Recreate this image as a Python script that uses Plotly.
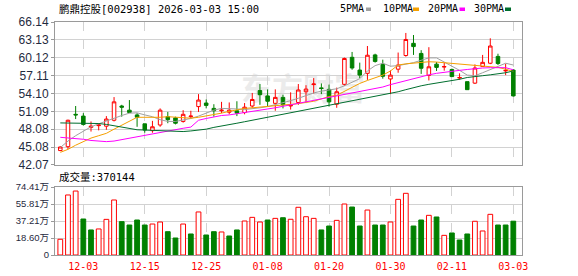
import plotly.graph_objects as go

# ---------------- data ----------------
dates = [
    "2025-11-28", "2025-12-01", "2025-12-02", "2025-12-03", "2025-12-04", "2025-12-05",
    "2025-12-08", "2025-12-09", "2025-12-10", "2025-12-11", "2025-12-12", "2025-12-15",
    "2025-12-16", "2025-12-17", "2025-12-18", "2025-12-19", "2025-12-22", "2025-12-23",
    "2025-12-24", "2025-12-25", "2025-12-26", "2025-12-29", "2025-12-30", "2025-12-31",
    "2026-01-05", "2026-01-06", "2026-01-07", "2026-01-08", "2026-01-09", "2026-01-12",
    "2026-01-13", "2026-01-14", "2026-01-15", "2026-01-16", "2026-01-19", "2026-01-20",
    "2026-01-21", "2026-01-22", "2026-01-23", "2026-01-26", "2026-01-27", "2026-01-28",
    "2026-01-29", "2026-01-30", "2026-02-02", "2026-02-03", "2026-02-04", "2026-02-05",
    "2026-02-06", "2026-02-09", "2026-02-10", "2026-02-11", "2026-02-12", "2026-02-13",
    "2026-02-24", "2026-02-25", "2026-02-26", "2026-02-27", "2026-03-02", "2026-03-03",
]
opens = [44.50, 45.15, 50.60, 50.30, 48.40, 48.70, 48.60, 49.60, 52.00, 51.30,
         50.50, 49.00, 47.85, 48.80, 50.20, 50.00, 49.40, 50.20, 51.90, 52.50,
         51.60, 51.20, 50.95, 51.20, 50.90, 52.00, 54.60, 53.70, 52.45, 53.45,
         52.00, 52.60, 54.40, 55.60, 55.05, 54.80, 52.30, 55.65, 60.20, 58.05,
         57.50, 60.60, 59.00, 56.55, 58.20, 60.50, 62.55, 60.85, 57.15, 59.05,
         58.55, 58.15, 56.70, 56.10, 55.85, 58.65, 59.20, 60.35, 57.90, 58.05]
highs = [45.20, 49.70, 52.00, 50.80, 49.40, 49.10, 50.30, 53.50, 52.20, 53.00,
         50.80, 49.00, 49.50, 51.60, 51.00, 50.20, 51.30, 51.20, 54.00, 53.10,
         52.30, 52.70, 52.60, 52.80, 52.50, 54.20, 55.70, 54.80, 54.80, 53.90,
         54.30, 55.70, 55.50, 56.70, 55.80, 55.60, 55.10, 60.15, 61.10, 59.30,
         62.10, 60.80, 59.80, 58.00, 61.00, 64.30, 63.95, 61.40, 61.90, 59.40,
         59.30, 58.30, 57.50, 56.10, 59.00, 60.60, 63.40, 60.80, 59.10, 58.20]
lows = [44.40, 44.75, 49.80, 48.70, 47.70, 47.90, 48.00, 49.40, 50.20, 50.80,
        48.50, 47.50, 47.50, 48.50, 49.10, 48.90, 49.20, 49.90, 51.00, 51.60,
        50.20, 50.80, 50.60, 50.30, 50.60, 51.70, 52.20, 51.90, 51.20, 51.60,
        51.40, 52.20, 52.70, 54.10, 54.00, 51.90, 51.70, 55.40, 58.10, 56.70,
        56.40, 59.30, 56.60, 54.00, 57.60, 60.30, 60.60, 57.40, 56.30, 57.90,
        57.95, 56.90, 56.40, 54.70, 55.70, 58.60, 59.05, 58.90, 57.20, 53.60]
closes = [45.10, 49.60, 50.50, 48.90, 48.60, 48.80, 49.80, 52.70, 51.80, 50.90,
          50.10, 47.95, 48.50, 51.30, 49.70, 49.10, 50.60, 50.30, 53.00, 52.10,
          51.20, 51.30, 51.30, 50.80, 51.80, 53.10, 53.90, 52.80, 53.45, 52.20,
          52.10, 54.70, 54.85, 55.70, 54.95, 52.70, 54.40, 60.00, 58.40, 57.20,
          60.55, 59.50, 57.00, 57.20, 58.90, 63.20, 62.00, 58.35, 58.60, 58.50,
          58.65, 56.95, 56.80, 54.75, 58.40, 59.35, 62.10, 59.15, 58.00, 53.70]

ma5 = [45.00, 46.10, 47.00, 47.70, 48.50, 49.00, 49.50, 50.00, 50.40, 50.80,
       50.85, 50.50, 50.20, 49.70, 49.40, 49.40, 49.60, 49.90, 50.30, 50.80,
       51.30, 51.60, 51.60, 51.50, 51.40, 51.50, 51.70, 51.90, 52.20, 52.60,
       52.90, 53.30, 53.80, 54.20, 54.50, 54.70, 54.90, 55.40, 56.00, 56.60,
       57.90, 58.80, 59.20, 58.70, 58.80, 59.00, 59.30, 59.70, 60.10, 60.10,
       59.40, 58.80, 58.00, 57.20, 57.10, 57.60, 58.10, 58.70, 59.20, 58.90]
ma10 = [44.20, 44.70, 45.40, 46.00, 46.60, 47.00, 47.40, 48.10, 48.80, 49.50,
        50.10, 50.10, 50.05, 50.10, 50.20, 50.15, 50.00, 49.95, 50.10, 50.30,
        50.50, 50.80, 51.10, 51.40, 51.60, 51.70, 51.80, 51.90, 52.00, 52.10,
        52.20, 52.40, 52.60, 52.80, 53.20, 53.60, 53.80, 54.50, 55.20, 55.80,
        56.30, 56.80, 57.20, 57.90, 58.90, 59.10, 59.20, 59.35, 59.45, 59.40,
        59.30, 59.15, 59.00, 58.90, 58.85, 58.80, 58.70, 58.50, 58.20, 57.80]
ma20 = [46.73, 46.65, 46.55, 46.40, 46.20, 46.05, 46.00, 46.10, 46.35, 46.60,
        46.85, 47.10, 47.35, 47.60, 47.80, 48.05, 48.25, 48.45, 49.60, 49.90,
        50.20, 50.40, 50.50, 50.70, 50.85, 51.00, 51.20, 51.40, 51.70, 51.95,
        52.20, 52.40, 52.60, 52.85, 53.10, 53.40, 53.70, 53.95, 54.20, 54.45,
        54.65, 54.85, 55.20, 55.60, 55.95, 56.30, 56.65, 56.95, 57.25, 57.50,
        57.70, 57.85, 58.00, 58.15, 58.30, 58.40, 58.45, 58.50, 58.45, 58.10]
ma30 = [49.15, 49.15, 49.10, 49.10, 49.10, 49.05, 48.90, 48.65, 48.45, 48.20,
        48.00, 47.95, 47.90, 47.90, 47.80, 47.70, 47.70, 47.80, 47.90, 48.10,
        48.40, 48.60, 48.85, 49.10, 49.35, 49.60, 49.85, 50.10, 50.35, 50.60,
        50.85, 51.10, 51.35, 51.60, 51.85, 52.10, 52.35, 52.60, 52.85, 53.10,
        53.35, 53.55, 53.80, 54.05, 54.40, 54.75, 55.10, 55.40, 55.65, 55.85,
        56.05, 56.25, 56.50, 56.80, 57.00, 57.10, 57.25, 57.40, 57.60, 57.90]

# volume in 万 (10k) shares, and up/down flag as coloured in the picture
volume_wan = [17.2, 65.7, 70.0, 39.4, 27.4, 28.5, 39.0, 60.2, 36.5, 32.8,
              38.3, 32.8, 33.9, 36.1, 25.5, 18.6, 33.9, 23.0, 47.1, 21.9,
              25.5, 25.2, 20.8, 27.4, 37.2, 41.2, 36.1, 38.3, 40.1, 40.8,
              39.1, 52.2, 41.9, 40.1, 27.4, 31.7, 37.9, 55.8, 52.5, 31.7,
              49.2, 32.8, 32.8, 36.1, 60.9, 67.5, 31.7, 38.3, 43.4, 41.6,
              21.5, 24.1, 16.4, 23.0, 36.9, 26.3, 44.5, 32.8, 32.8, 37.0]
volume_up = [1, 1, 1, 0, 0, 1, 1, 1, 0, 0,
             0, 0, 1, 1, 0, 0, 1, 0, 1, 0,
             0, 1, 0, 0, 1, 1, 1, 0, 1, 0,
             1, 1, 1, 1, 0, 0, 1, 1, 0, 0,
             1, 0, 0, 1, 1, 1, 0, 0, 1, 0,
             1, 0, 0, 0, 1, 1, 1, 0, 0, 0]

price_ticks = [42.07, 45.08, 48.08, 51.09, 54.10, 57.11, 60.12, 63.13, 66.14]
vol_ticks = [0, 18.60, 37.21, 55.81, 74.41]
vol_tick_text = ["0", "18.60万", "37.21万", "55.81万", "74.41万"]
date_ticks = ["2025-12-03", "2025-12-15", "2025-12-25", "2026-01-08",
              "2026-01-20", "2026-01-30", "2026-02-11", "2026-03-03"]
date_tick_text = ["12-03", "12-15", "12-25", "01-08", "01-20", "01-30", "02-11", "03-03"]

title_text = "鹏鼎控股[002938] 2026-03-03 15:00"
volume_label = "成交量:370144"
ma_names = ["5PMA", "10PMA", "20PMA", "30PMA"]
watermark = "东方财富"

# ---------------- styling / layout ----------------
W, H = 578, 276
L, R, T, B = 55, 56, 22, 21
PW, PH = W - L - R, H - T - B

def px(xp):
    return (xp - L) / PW

def py(yp):
    return (H - B - yp) / PH

RED = "#ff0000"
GREEN = "#008000"
MA_COLORS = ["#a0a0a0", "#f5a000", "#ff00ff", "#006e2e"]
GRID = "#d2d2d2"
FRAME = "#9a9a9a"
LABEL = "#1f2a40"

fig = go.Figure()

fig.add_trace(go.Candlestick(
    x=dates, open=opens, high=highs, low=lows, close=closes,
    increasing=dict(line=dict(color=RED, width=1), fillcolor="#ffffff"),
    decreasing=dict(line=dict(color=GREEN, width=1), fillcolor=GREEN),
    whiskerwidth=0, showlegend=False, hoverinfo="skip",
    xaxis="x", yaxis="y",
))

for name, vals, col in zip(ma_names, [ma5, ma10, ma20, ma30], MA_COLORS):
    fig.add_trace(go.Scatter(
        x=dates, y=vals, mode="lines", name=name,
        line=dict(color=col, width=1), showlegend=False, hoverinfo="skip",
        xaxis="x", yaxis="y",
    ))

fig.add_trace(go.Bar(
    x=dates, y=volume_wan, width=0.62,
    marker=dict(color=["#ffffff" if u else GREEN for u in volume_up],
                line=dict(color=[RED if u else GREEN for u in volume_up], width=1)),
    showlegend=False, hoverinfo="skip", xaxis="x2", yaxis="y2",
))

common_x = dict(
    type="category", range=[-0.69, 60.13], tickvals=date_ticks,
    showgrid=True, gridcolor=GRID, griddash="dash", gridwidth=1,
    showline=True, mirror=True, linecolor=FRAME, linewidth=1,
    zeroline=False, fixedrange=True, automargin=False,
)

main_bottom = py(165)
vol_top = py(187)

fig.update_layout(
    width=W, height=H,
    margin=dict(l=L, r=R, t=T, b=B, pad=0, autoexpand=False),
    paper_bgcolor="#ffffff", plot_bgcolor="rgba(0,0,0,0)",
    showlegend=False, boxgap=0.34,
    xaxis=dict(common_x, anchor="y", showticklabels=False, ticks="",
               rangeslider=dict(visible=False)),
    xaxis2=dict(common_x, anchor="y2", matches="x", showticklabels=True,
                ticktext=date_tick_text, ticks="outside", ticklen=2,
                tickcolor="rgba(0,0,0,0)",
                tickfont=dict(family="DejaVu Sans Mono", size=10, color=RED)),
    yaxis=dict(domain=[main_bottom, 1], range=[42.07 - 0.002, 66.14 + 0.002],
               tickvals=price_ticks, ticktext=["%.2f" % v for v in price_ticks],
               showgrid=True, gridcolor=GRID, gridwidth=1,
               showline=True, mirror=True, linecolor=FRAME, linewidth=1,
               ticks="outside", ticklen=3, tickcolor=FRAME, zeroline=False,
               tickfont=dict(family="Liberation Sans", size=12, color=LABEL),
               fixedrange=True, automargin=False),
    yaxis2=dict(domain=[0, vol_top], range=[0, 74.41 + 0.01],
                tickvals=vol_ticks, ticktext=vol_tick_text,
                showgrid=True, gridcolor=GRID, gridwidth=1,
                showline=True, mirror=True, linecolor=FRAME, linewidth=1,
                ticks="outside", ticklen=3, tickcolor=FRAME, zeroline=False,
                tickfont=dict(family="Liberation Sans, Noto Sans CJK SC", size=9.5, color=LABEL),
                fixedrange=True, automargin=False),
)

annotations = [
    dict(text=title_text, x=px(57), y=py(8.5), xref="paper", yref="paper",
         xanchor="left", yanchor="middle", showarrow=False,
         font=dict(family="DejaVu Sans Mono, Noto Sans CJK SC", size=10.5, color="#000000")),
    dict(text=volume_label, x=px(57), y=py(177), xref="paper", yref="paper",
         xanchor="left", yanchor="middle", showarrow=False,
         font=dict(family="DejaVu Sans Mono, Noto Sans CJK SC", size=10.5, color="#000000")),
]
shapes = []
legend_text_x = [338, 380.5, 425.5, 471.5]
legend_sq_x = [(366, 371), (413, 419), (459.5, 465), (505, 511)]
for name, tx, (s0, s1), col in zip(ma_names, legend_text_x, legend_sq_x, MA_COLORS):
    annotations.append(dict(
        text=name, x=px(tx), y=py(9), xref="paper", yref="paper",
        xanchor="left", yanchor="middle", showarrow=False,
        font=dict(family="DejaVu Sans Mono", size=10, color="#000000")))
    shapes.append(dict(type="rect", xref="paper", yref="paper",
                       x0=px(s0), x1=px(s1), y0=py(11), y1=py(7.5),
                       fillcolor=col, line=dict(width=0)))

# faint background watermark (drawn below the data)
shapes.append(dict(type="rect", xref="paper", yref="paper", layer="below",
                   x0=px(236), x1=px(370), y0=py(108), y1=py(74),
                   line=dict(width=0), fillcolor="rgba(0,0,0,0)",
                   label=dict(text=watermark, textposition="middle center",
                              font=dict(family="Noto Sans CJK SC", size=31,
                                        color="#ebebeb", weight="bold"))))

fig.update_layout(annotations=annotations, shapes=shapes)

fig.write_html("out.html", include_plotlyjs=True, config={"displayModeBar": False})
